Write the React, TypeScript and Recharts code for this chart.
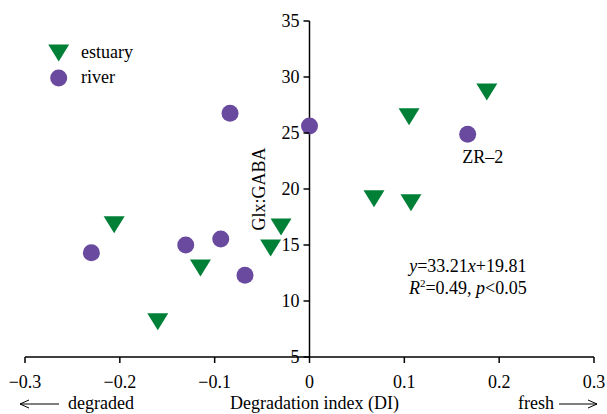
import React from 'react';
import {
  ScatterChart,
  Scatter,
  XAxis,
  YAxis,
  ReferenceLine,
  ReferenceDot,
  Legend,
} from 'recharts';

// values
const estuaryDI = [-0.206, -0.16, -0.115, -0.041, -0.03, 0.068, 0.107, 0.105, 0.187];
const estuaryRatio = [16.8, 8.15, 12.95, 14.73, 16.6, 19.13, 18.78, 26.46, 28.66];

const riverDI = [-0.23, -0.1305, -0.0936, -0.068, -0.0838, 0.0, 0.1668];
const riverRatio = [14.31, 15.0, 15.54, 12.29, 26.76, 25.63, 24.88];
const riverLabels = ['', '', '', '', '', '', 'ZR–2'];

const xTicks = [-0.3, -0.2, -0.1, 0, 0.1, 0.2, 0.3];
const xTickLabels = ['−0.3', '−0.2', '−0.1', '0', '0.1', '0.2', '0.3'];
const yTicks = [5, 10, 15, 20, 25, 30, 35];

const fitX = 0.167;
const fitY = 12.62;

const GREEN = '#008037';
const PURPLE = '#6a4a9f';
const FONT = "'Liberation Serif', 'Times New Roman', serif";
const txt = { fontFamily: FONT, fontSize: 18 };

const W = 607;
const H = 414;
const margin = { top: 21, right: 13, left: 24, bottom: 0 };
const Y_W = 1;
const plotW = W - margin.left - Y_W - margin.right;
const ZERO_X = margin.left + Y_W + plotW / 2;

const estuary = estuaryDI.map((x, i) => ({ x, y: estuaryRatio[i] }));
const river = riverDI.map((x, i) => ({ x, y: riverRatio[i], label: riverLabels[i] }));

const Triangle = ({ cx, cy }: any) => (
  <path
    d={`M${cx - 10.5},${cy - 8.5}L${cx + 10.5},${cy - 8.5}L${cx},${cy + 8.5}Z`}
    fill={GREEN}
  />
);

const Dot = ({ cx, cy, payload }: any) => (
  <g>
    <circle cx={cx} cy={cy} r={8.5} fill={PURPLE} />
    {payload?.label ? (
      <text x={cx + 15} y={cy + 29} textAnchor="middle" style={txt} fill="#000">
        {payload.label}
      </text>
    ) : null}
  </g>
);

const renderYTick = ({ y, payload }: any) => (
  <g key={`yt-${payload.value}`}>
    <line x1={ZERO_X - 6} x2={ZERO_X} y1={y} y2={y} stroke="#000" strokeWidth={1.5} />
    <text x={ZERO_X - 10} y={y} dy="0.355em" textAnchor="end" style={txt} fill="#000">
      {payload.value}
    </text>
  </g>
);

const Arrow = ({ x1, x2, y }: { x1: number; x2: number; y: number }) => {
  const dir = x2 > x1 ? 1 : -1;
  return (
    <g stroke="#000" strokeWidth={1} fill="none">
      <line x1={x1} x2={x2} y1={y} y2={y} />
      <path d={`M${x2 - dir * 9},${y - 4}L${x2},${y}L${x2 - dir * 9},${y + 4}`} />
    </g>
  );
};

const XLabel = ({ viewBox }: any) => {
  const { x, y, width } = viewBox;
  const base = y + 52;
  return (
    <g style={txt} fill="#000">
      <Arrow x1={x + 34} x2={x - 5} y={base - 5} />
      <text x={x + 43} y={base} style={txt}>degraded</text>
      <text x={x + width / 2 + 5} y={base} textAnchor="middle" style={txt}>
        Degradation index (DI)
      </text>
      <text x={x + width - 76} y={base} style={txt}>fresh</text>
      <Arrow x1={x + width - 35} x2={x + width + 3} y={base - 5} />
    </g>
  );
};

const YLabel = ({ viewBox }: any) => {
  const cx = viewBox.x - 51;
  const cy = viewBox.y + viewBox.height / 2;
  return (
    <text
      x={cx}
      y={cy}
      transform={`rotate(-90 ${cx} ${cy})`}
      textAnchor="middle"
      dominantBaseline="central"
      style={txt}
      fill="#000"
    >
      Glx:GABA
    </text>
  );
};

const FitText = ({ cx, cy }: any) => (
  <g fill="#000">
    <text x={cx} y={cy} textAnchor="middle" style={txt}>
      <tspan fontStyle="italic">y</tspan>=33.21<tspan fontStyle="italic">x</tspan>+19.81
    </text>
    <text x={cx} y={cy + 22.5} textAnchor="middle" style={txt}>
      <tspan fontStyle="italic">R</tspan>
      <tspan style={{ fontSize: 11 }} dy={-7}>2</tspan>
      <tspan dy={7}>=0.49, </tspan>
      <tspan fontStyle="italic">p</tspan>
      <tspan>{'<0.05'}</tspan>
    </text>
  </g>
);

const LegendBox = ({ payload }: any) => (
  <svg width={140} height={100} style={{ display: 'block' }}>
    {(payload || []).map((item: any, i: number) => {
      const cy = 53 + i * 25;
      return (
        <g key={item.value}>
          {item.value === 'estuary' ? (
            <Triangle cx={58.7} cy={cy} />
          ) : (
            <circle cx={58.7} cy={cy} r={8.5} fill={PURPLE} />
          )}
          <text x={81} y={cy + 5} style={txt} fill="#000">
            {item.value}
          </text>
        </g>
      );
    })}
  </svg>
);

export default function App() {
  return (
    <div style={{ position: 'absolute', left: 0, top: 0, width: W, height: H, background: '#fff' }}>
      <ScatterChart width={W} height={H} margin={margin}>
        <XAxis
          type="number"
          dataKey="x"
          domain={[-0.3, 0.3]}
          ticks={xTicks}
          tickFormatter={(v: number) => xTickLabels[xTicks.indexOf(v)] ?? String(v)}
          axisLine={{ stroke: '#000', strokeWidth: 1.5 }}
          tickLine={{ stroke: '#000', strokeWidth: 1.5 }}
          tickSize={6}
          tickMargin={12}
          tick={{ fill: '#000', style: txt }}
          height={57}
          label={<XLabel />}
          allowDataOverflow
        />
        <YAxis
          type="number"
          dataKey="y"
          domain={[5, 35]}
          ticks={yTicks}
          interval={0}
          width={Y_W}
          axisLine={false}
          tickLine={false}
          tick={renderYTick}
          allowDataOverflow
        />
        <ReferenceLine x={0} stroke="#000" strokeWidth={1.5} label={<YLabel />} />
        <ReferenceDot x={fitX} y={fitY} r={0} shape={<FitText />} />
        <Legend
          layout="vertical"
          align="center"
          verticalAlign="middle"
          wrapperStyle={{ left: 0, top: 0, width: 140 }}
          content={<LegendBox />}
        />
        <Scatter name="estuary" data={estuary} fill={GREEN} shape={<Triangle />} isAnimationActive={false} />
        <Scatter name="river" data={river} fill={PURPLE} shape={<Dot />} isAnimationActive={false} />
      </ScatterChart>
    </div>
  );
}
